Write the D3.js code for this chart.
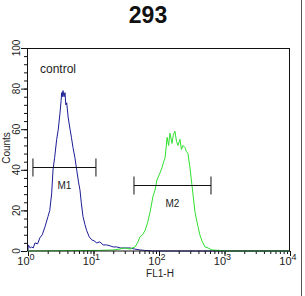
<!DOCTYPE html>
<html>
<head>
<meta charset="utf-8">
<script src="https://cdn.jsdelivr.net/npm/d3@7"></script>
<style>
  html, body { margin: 0; padding: 0; background: #fff; }
  svg { display: block; font-family: "Liberation Sans", Arial, sans-serif; }
</style>
</head>
<body>
<svg id="chart" width="305" height="296"></svg>
<script>
// histogram traces: FL1-H value, counts
const controlFL = [1.0, 1.01, 1.08, 1.14, 1.2, 1.28, 1.4, 1.52, 1.65, 1.82, 2.02, 2.15, 2.3, 2.41, 2.55, 2.74, 2.9, 3.08, 3.2, 3.27, 3.34, 3.42, 3.55, 3.67, 3.78, 3.9, 4.1, 4.38, 4.6, 4.86, 5.2, 5.54, 5.9, 6.22, 6.5, 6.91, 7.4, 7.88, 8.6, 9.39, 10.2, 11.2, 12.5, 14, 15.9, 18, 20, 22.6, 26, 30, 36.1, 42, 51.3, 60, 80, 10000];
const controlCt = [0.5, 3, 1.5, 2, 1.5, 4, 3.5, 6.5, 8, 12, 17, 20, 28.5, 40, 46, 55, 60, 68, 74, 78, 76, 79, 76, 78, 72, 73, 66, 60, 56, 51, 46, 40, 34, 30, 24, 17, 13, 10, 7, 5.5, 5, 4, 4.5, 3, 3, 2.5, 2, 2, 1.5, 1.5, 1.5, 1, 0.5, 0.3, 0, 0];
const sampleFL = [1, 5, 12, 20, 25.4, 30, 36, 43, 47, 51.3, 56, 61.1, 67, 72.9, 81, 87, 93.1, 102, 111, 118, 124, 133, 140, 147, 158, 165, 175, 185, 195, 209, 220, 232, 249, 262, 277, 297, 312, 330, 355, 394, 420, 453, 504, 560, 644, 853, 1000, 10000];
const sampleCt = [0, 0.2, 0.3, 0.5, 1, 1.5, 1, 2, 4, 7, 8, 10, 14, 19, 27, 30, 35, 38, 41, 44, 46, 56, 52, 58, 53, 57, 59, 54, 52, 55, 50, 52, 51, 49, 48, 41, 35, 28, 19, 12, 8, 5, 2, 1.5, 0.5, 0.3, 0, 0];

// marker bars: start, end, counts level
const markerNames = ["M1", "M2"];
const markerFrom = [1.19, 41.5];
const markerTo = [10.9, 622];
const markerLevel = [41.5, 32.5];

const xTickLabels = [1, 10, 100, 1000, 10000];
const yTickLabels = [0, 20, 40, 60, 80, 100];

const svg = d3.select("#chart");
const x = d3.scaleLog().domain([1, 10000]).range([28, 290]);
const y = d3.scaleLinear().domain([0, 100]).range([251, 48]);

// title
svg.append("text").attr("x", 148).attr("y", 23).attr("text-anchor", "middle")
  .attr("font-size", 23).attr("font-weight", 700).attr("fill", "#111").text("293");

// right image edge line
svg.append("line").attr("x1", 301.5).attr("x2", 301.5).attr("y1", 0).attr("y2", 296)
  .attr("stroke", "#555").attr("stroke-width", 1);

// axes ticks
const minorX = [];
for (let d = 1; d < 10000; d *= 10) for (let k = 1; k < 10; k++) minorX.push(d * k);
minorX.push(10000);
svg.append("g").attr("transform", "translate(0,251)")
  .call(d3.axisBottom(x).tickValues(minorX).tickSize(3).tickFormat(""))
  .call((g) => g.select(".domain").remove())
  .call((g) => g.selectAll("line").attr("stroke", "#111"));
svg.append("g").attr("transform", "translate(0,251)")
  .call(d3.axisBottom(x).tickValues(xTickLabels).tickSize(5).tickFormat(""))
  .call((g) => g.select(".domain").remove())
  .call((g) => g.selectAll("line").attr("stroke", "#111"));

svg.append("g").attr("transform", "translate(27,0)")
  .call(d3.axisLeft(y).tickValues(d3.range(0, 101, 4)).tickSize(3).tickFormat(""))
  .call((g) => g.select(".domain").remove())
  .call((g) => g.selectAll("line").attr("stroke", "#111"));
svg.append("g").attr("transform", "translate(27,0)")
  .call(d3.axisLeft(y).tickValues(yTickLabels).tickSize(6).tickFormat(""))
  .call((g) => g.select(".domain").remove())
  .call((g) => g.selectAll("line").attr("stroke", "#111"));

// y labels, rotated
yTickLabels.forEach((v) => {
  svg.append("text").attr("transform", `translate(19.5,${y(v)}) rotate(-90)`)
    .attr("text-anchor", "middle").attr("font-size", 10).attr("fill", "#222").text(v);
});
svg.append("text").attr("transform", `translate(10,148) rotate(-90)`)
  .attr("text-anchor", "middle").attr("font-size", 10).attr("fill", "#222").text("Counts");

// x labels with superscripts
xTickLabels.forEach((v, i) => {
  const t = svg.append("text").attr("x", x(v) - 2).attr("y", 265).attr("text-anchor", "middle")
    .attr("font-size", 11).attr("fill", "#222");
  t.append("tspan").text("10");
  t.append("tspan").attr("dy", -5).attr("font-size", 9).text(i);
});
svg.append("text").attr("x", 160).attr("y", 277).attr("text-anchor", "middle")
  .attr("font-size", 10).attr("fill", "#222").text("FL1-H");

// control label
svg.append("text").attr("x", 40).attr("y", 73).attr("font-size", 12).attr("fill", "#222").text("control");

// traces
const line = d3.line().x((d) => x(d[0])).y((d) => y(d[1]));
svg.append("path").datum(controlFL.map((v, i) => [v, controlCt[i]]))
  .attr("fill", "none").attr("stroke", "#1c1c96").attr("stroke-width", 1).attr("d", line);
svg.append("path").datum(sampleFL.map((v, i) => [v, sampleCt[i]]))
  .attr("fill", "none").attr("stroke", "#2fe02f").attr("stroke-width", 1).attr("d", line);

// markers
markerNames.forEach((m, i) => {
  const g = svg.append("g").attr("stroke", "#111").attr("stroke-width", 1);
  const yy = Math.round(y(markerLevel[i])) + 0.5;
  g.append("line").attr("x1", x(markerFrom[i])).attr("x2", x(markerTo[i])).attr("y1", yy).attr("y2", yy);
  [markerFrom[i], markerTo[i]].forEach((v) => {
    g.append("line").attr("x1", x(v)).attr("x2", x(v)).attr("y1", yy - 9).attr("y2", yy + 9);
  });
  svg.append("text").attr("x", (x(markerFrom[i]) + x(markerTo[i])) / 2).attr("y", yy + 21)
    .attr("text-anchor", "middle").attr("font-size", 10).attr("fill", "#222").text(m);
});

// frame
svg.append("rect").attr("x", 27.5).attr("y", 48.5).attr("width", 262).attr("height", 202.5)
  .attr("fill", "none").attr("stroke", "#111").attr("stroke-width", 1);
</script>
</body>
</html>
